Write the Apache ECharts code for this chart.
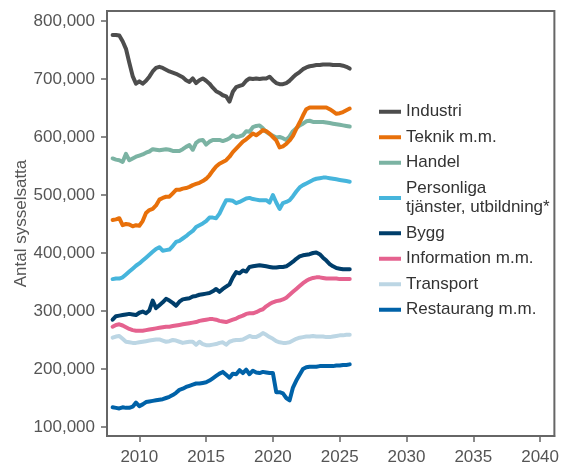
<!DOCTYPE html>
<html>
<head>
<meta charset="utf-8">
<script src="https://cdn.jsdelivr.net/npm/echarts@6/dist/echarts.min.js"></script>
<style>
html,body{margin:0;padding:0;background:#fff;}
#chart{width:562px;height:466px;}
</style>
</head>
<body>
<div id="chart"></div>
<script>
// Quarterly time points (decimal years)
const quarters = [
 2008.00,2008.25,2008.50,2008.75,2009.00,2009.25,2009.50,2009.75,
 2010.00,2010.25,2010.50,2010.75,2011.00,2011.25,2011.50,2011.75,
 2012.00,2012.25,2012.50,2012.75,2013.00,2013.25,2013.50,2013.75,
 2014.00,2014.25,2014.50,2014.75,2015.00,2015.25,2015.50,2015.75,
 2016.00,2016.25,2016.50,2016.75,2017.00,2017.25,2017.50,2017.75,
 2018.00,2018.25,2018.50,2018.75,2019.00,2019.25,2019.50,2019.75,
 2020.00,2020.25,2020.50,2020.75,2021.00,2021.25,2021.50,2021.75,
 2022.00,2022.25,2022.50,2022.75,2023.00,2023.25,2023.50,2023.75,
 2024.00,2024.25,2024.50,2024.75,2025.00,2025.25,2025.50,2025.75
];

// Values in thousands of employed persons
const industri = [
 776,776,775,765,752,728,705,692, 696,692,697,704,713,719,721,719,
 716,713,711,709,706,703,698,695, 701,693,698,701,697,692,685,679,
 676,672,670,661,678,686,688,690, 697,701,700,701,700,701,701,704,
 698,693,691,691,693,697,703,708, 712,717,720,722,723,724,724,725,
 725,725,724,724,724,723,721,718
];
const teknik = [
 457,458,460,448,450,449,446,448, 447,455,469,474,476,482,492,495,
 497,497,503,509,509,511,512,514, 517,519,521,524,528,534,542,549,
 554,557,560,566,574,580,586,592, 596,601,606,603,607,612,610,606,
 600,594,582,584,588,594,602,614, 625,637,648,651,651,651,651,651,
 651,648,644,640,641,643,646,649
];
const handel = [
 563,561,560,557,571,560,563,566, 568,570,573,575,579,578,577,578,
 579,578,576,576,576,579,583,586, 578,590,594,595,587,592,595,595,
 595,593,595,598,603,600,601,603, 610,609,617,619,620,615,609,605,
 602,599,600,598,595,601,610,615, 620,623,627,628,626,626,626,626,
 625,624,623,622,621,620,619,618
];
const personliga = [
 355,356,356,358,363,368,373,378, 382,387,392,397,402,407,410,404,
 405,406,412,419,421,425,429,434, 438,445,448,451,455,461,461,460,
 468,480,491,491,490,486,488,491, 494,495,493,492,491,491,491,487,
 500,487,476,486,488,491,498,506, 513,517,520,523,526,528,529,530,
 530,529,528,527,526,525,524,523
];
const bygg = [
 285,291,292,293,294,295,294,293, 297,299,296,301,318,305,310,315,
 321,318,314,309,316,320,321,322, 325,326,328,329,330,331,334,338,
 333,338,342,346,358,367,365,370, 368,376,377,378,379,378,377,376,
 375,375,376,376,377,381,385,390, 394,396,397,398,400,401,398,392,
 387,381,377,374,373,372,372,372
];
const information = [
 273,276,277,275,272,269,267,266, 266,266,267,268,269,270,271,272,
 273,273,274,275,276,277,278,279, 280,281,283,284,285,286,286,285,
 283,282,281,283,285,287,290,292, 295,296,296,298,301,303,308,312,
 315,317,318,320,323,328,333,338, 343,348,352,355,357,358,358,357,
 356,356,356,356,355,355,355,355
];
const transport = [
 254,256,257,252,247,246,245,245, 246,247,248,249,250,251,251,249,
 247,248,250,249,247,245,246,247, 247,242,247,243,241,241,242,243,
 245,246,242,247,249,250,250,251, 254,257,255,255,258,262,259,255,
 252,248,246,245,245,246,249,252, 254,255,256,256,257,256,256,256,
 255,255,256,257,258,258,259,259
];
const restaurang = [
 134,133,132,134,133,133,135,142, 136,139,143,144,145,146,147,148,
 150,152,155,159,164,166,169,171, 173,175,175,176,177,180,184,188,
 192,195,190,185,192,191,198,193, 199,191,197,194,193,195,194,193,
 193,160,160,158,150,146,168,180, 190,200,203,204,204,204,205,205,
 205,205,205,206,206,207,207,208
];

const seriesNames = [
 "Industri","Teknik m.m.","Handel","Personliga\ntjänster, utbildning*",
 "Bygg","Information m.m.","Transport","Restaurang m.m."
];
const seriesValues = [industri, teknik, handel, personliga, bygg, information, transport, restaurang];
const seriesColors = ["#4d4d4d","#e8700a","#7bb3a3","#46b5dc","#003e6b","#e5628f","#bcd6e4","#0062a8"];

const yTicks = [100000,200000,300000,400000,500000,600000,700000,800000];
const xTicks = [2010,2015,2020,2025,2030,2035,2040];

const FONT = "'Liberation Sans', Arial, sans-serif";

const chart = echarts.init(document.getElementById('chart'), null, {renderer:'canvas'});

const series = seriesNames.map((name, si) => ({
  name: name,
  type: 'line',
  showSymbol: false,
  symbol: 'none',
  smooth: false,
  lineStyle: { width: 4, color: seriesColors[si], cap: 'round', join: 'round' },
  itemStyle: { color: seriesColors[si] },
  data: quarters.map((q, i) => [q, seriesValues[si][i] * 1000]),
  z: 2
})).reverse();

chart.setOption({
  animation: false,
  textStyle: { fontFamily: FONT },
  grid: {
    left: 107, right: 7, top: 11, bottom: 30,
    show: true, borderColor: '#666', borderWidth: 2, backgroundColor: 'transparent'
  },
  legend: {
    orient: 'vertical',
    left: 374, top: 97,
    icon: 'rect',
    itemWidth: 22, itemHeight: 4,
    itemGap: 6,
    data: seriesNames,
    textStyle: { fontFamily: FONT, fontSize: 17, color: '#333', lineHeight: 19.5 }
  },
  xAxis: {
    type: 'value',
    min: 2007.58, max: 2041.07,
    splitLine: { show: false },
    axisLine: { show: true, lineStyle: { color: '#666', width: 2 } },
    axisTick: { show: true, length: 6, lineStyle: { color: '#666', width: 1.5 }, customValues: xTicks },
    axisLabel: { fontFamily: FONT, fontSize: 17, color: '#555', margin: 13, customValues: xTicks,
      formatter: v => String(Math.round(v)) }
  },
  yAxis: {
    type: 'value',
    min: 84483, max: 817241,
    name: 'Antal sysselsatta',
    nameLocation: 'middle',
    nameGap: 77,
    nameMoveOverlap: false,
    nameRotate: 90,
    nameTextStyle: { fontFamily: FONT, fontSize: 17, color: '#555' },
    splitLine: { show: false },
    axisLine: { show: true, lineStyle: { color: '#666', width: 2 } },
    axisTick: { show: true, length: 6, lineStyle: { color: '#666', width: 1.5 }, customValues: yTicks },
    axisLabel: { fontFamily: FONT, fontSize: 17, color: '#555', margin: 12, customValues: yTicks,
      formatter: v => Math.round(v).toLocaleString('en-US') }
  },
  series: series
});
</script>
</body>
</html>
